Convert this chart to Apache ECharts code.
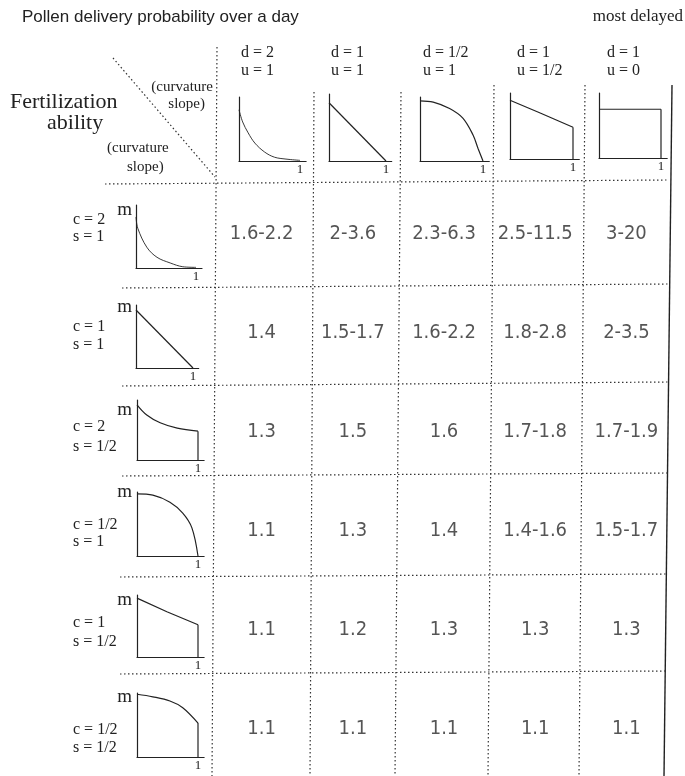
<!DOCTYPE html>
<html><head><meta charset="utf-8">
<script src="https://cdn.jsdelivr.net/npm/echarts@6/dist/echarts.min.js"></script>
<style>html,body{margin:0;padding:0;background:#fff}#c{width:685px;height:776px}</style>
</head><body><div id="c"></div>
<script>
// ---------- data ----------
const colLabelsD = ['d = 2', 'd = 1', 'd = 1/2', 'd = 1', 'd = 1'];
const colLabelsU = ['u = 1', 'u = 1', 'u = 1', 'u = 1/2', 'u = 0'];
const rowLabelsC = ['c = 2', 'c = 1', 'c = 2', 'c = 1/2', 'c = 1', 'c = 1/2'];
const rowLabelsS = ['s = 1', 's = 1', 's = 1/2', 's = 1', 's = 1/2', 's = 1/2'];
const cellValues = [
  ['1.6-2.2', '2-3.6', '2.3-6.3', '2.5-11.5', '3-20'],
  ['1.4', '1.5-1.7', '1.6-2.2', '1.8-2.8', '2-3.5'],
  ['1.3', '1.5', '1.6', '1.7-1.8', '1.7-1.9'],
  ['1.1', '1.3', '1.4', '1.4-1.6', '1.5-1.7'],
  ['1.1', '1.2', '1.3', '1.3', '1.3'],
  ['1.1', '1.1', '1.1', '1.1', '1.1']
];
// pollen delivery curves (x: time of day 0..1, y: fraction of axis height)
const pollenCurve1 = [[0,0.80],[0.06,0.61],[0.15,0.44],[0.26,0.28],[0.42,0.14],[0.58,0.06],[0.77,0.03],[1,0.01]];
const pollenCurve2 = [[0,0.87],[1,0]];
const pollenCurve3 = [[0,0.94],[0.21,0.92],[0.47,0.82],[0.68,0.67],[0.84,0.41],[0.92,0.20],[1,0]];
const pollenCurve4 = [[0,0.89],[0.47,0.70],[1,0.48]];
const pollenCurve5 = [[0,0.75],[1,0.75]];
const pollenDrops = [false, false, false, true, true];
// fertilization ability curves
const fertCurve1 = [[0,0.81],[0.03,0.63],[0.18,0.33],[0.35,0.17],[0.57,0.08],[0.78,0.02],[1,0.01]];
const fertCurve2 = [[0,0.92],[1,0]];
const fertCurve3 = [[0,0.92],[0.16,0.75],[0.38,0.62],[0.66,0.53],[1,0.48]];
const fertCurve4 = [[0,0.97],[0.26,0.95],[0.54,0.84],[0.75,0.67],[0.9,0.44],[1,0]];
const fertCurve5 = [[0,0.95],[0.49,0.73],[1,0.52]];
const fertCurve6 = [[0,0.98],[0.26,0.94],[0.54,0.875],[0.75,0.77],[1,0.53]];
const fertDrops = [false, false, true, false, true, true];

// ---------- layout ----------
const pollenCurves = [pollenCurve1, pollenCurve2, pollenCurve3, pollenCurve4, pollenCurve5];
const fertCurves = [fertCurve1, fertCurve2, fertCurve3, fertCurve4, fertCurve5, fertCurve6];
// [left, x of "1", top, bottom]
const pollenRects = [[239,300,97,161],[329,386,94,161],[420,483,97,161],[510,573,93,159],[599,661,93,158]];
const fertRects = [[136,196,205,268],[136,193,305,368],[137,198,400,460],[137,198,492,556],[137,198,595,657],[137,198,693,757]];
const colTextX = [241, 331, 423, 517, 607];
const rowTextY = [[220,237],[327,345],[427,447],[525,542],[623,642],[730,748]];
const mTextY = [210, 307, 410, 492, 600, 697];

const SERIF = '"Liberation Serif","Times New Roman",serif';
const SANS = '"Liberation Sans",Arial,sans-serif';
const NARROW = '"Liberation Sans Narrow","DejaVu Sans Condensed",sans-serif';
const INK = '#222';

const grids = [], xAxes = [], yAxes = [], series = [];
function addMini(rect, pts, drop, thin) {
  const i = grids.length;
  const [l, x1, t, b] = rect;
  grids.push({left: l, top: t, width: (x1 - l) * 1.1, height: b - t});
  xAxes.push({type: 'value', gridIndex: i, min: 0, max: 1.1, interval: 1,
    axisLine: {show: true, onZero: false, lineStyle: {color: INK, width: 1.2}},
    axisTick: {show: false}, splitLine: {show: false},
    axisLabel: {show: true, formatter: v => (v === 1 ? '1' : ''), fontFamily: SERIF, fontSize: 13, color: INK, margin: 2}});
  yAxes.push({type: 'value', gridIndex: i, min: 0, max: 1,
    axisLine: {show: true, onZero: false, lineStyle: {color: INK, width: 1.2}},
    axisTick: {show: false}, splitLine: {show: false}, axisLabel: {show: false}});
  series.push({type: 'line', xAxisIndex: i, yAxisIndex: i, data: pts, showSymbol: false,
    smooth: pts.length > 3 ? 0.35 : false, silent: true,
    lineStyle: {color: INK, width: thin ? 0.9 : 1.2}});
  if (drop) {
    const last = pts[pts.length - 1];
    series.push({type: 'line', xAxisIndex: i, yAxisIndex: i, data: [[last[0], last[1]], [last[0], 0]],
      showSymbol: false, silent: true, lineStyle: {color: INK, width: 1.2}});
  }
}
pollenCurves.forEach((c, k) => addMini(pollenRects[k], c, pollenDrops[k], k === 0));
fertCurves.forEach((c, k) => addMini(fertRects[k], c, fertDrops[k], k === 0));

// main table of values
const m = grids.length;
grids.push({left: 216, top: 182, width: 456, height: 594});
xAxes.push({type: 'category', gridIndex: m, data: colLabelsD.map((d, k) => d + ', ' + colLabelsU[k]),
  axisLine: {show: false}, axisTick: {show: false}, axisLabel: {show: false}, splitLine: {show: false}});
yAxes.push({type: 'category', gridIndex: m, inverse: true, data: rowLabelsC.map((c, k) => c + ', ' + rowLabelsS[k]),
  axisLine: {show: false}, axisTick: {show: false}, axisLabel: {show: false}, splitLine: {show: false}});
const cells = [];
cellValues.forEach((row, r) => row.forEach((v, c) => cells.push([c, r, v])));
series.push({type: 'scatter', xAxisIndex: m, yAxisIndex: m, data: cells, symbolSize: 0.01,
  itemStyle: {color: 'transparent'}, silent: true,
  label: {show: true, position: 'inside', offset: [0, 2], formatter: p => p.value[2], fontFamily: NARROW, fontSize: 20, color: '#2a2a2a'}});

// ---------- decorations ----------
const g = [];
const dot = {stroke: '#333', lineWidth: 1.2, lineDash: [1.5, 2.5]};
function line(x1, y1, x2, y2, style) { g.push({type: 'line', silent: true, shape: {x1, y1, x2, y2}, style}); }
function text(t, x, y, font, align) {
  g.push({type: 'text', silent: true, x, y, style: {text: t, font, fill: INK, align: align || 'left', verticalAlign: 'middle'}});
}
// vertical rules [x top, x bottom, y top]
[[217,212,47],[314,310,92],[401,395,92],[494,488,85],[585,579,85]].forEach(v => line(v[0], v[2], v[1], 776, dot));
line(672, 85, 664, 776, {stroke: INK, lineWidth: 1.4});
// horizontal rules [x left, y left, y right]
[[105,184,180],[122,288,284],[122,386,382],[122,476,473],[120,577,574],[120,674,671]].forEach(h => line(h[0], h[1], 668, h[2], dot));
// diagonal
line(113, 58, 215, 177, dot);

text('Pollen delivery probability over a day', 22, 17, '17px ' + SANS);
text('most delayed', 683, 17, '17px ' + SERIF, 'right');
text('Fertilization', 10, 102, '22px ' + SERIF);
text('ability', 47, 123, '22px ' + SERIF);
text('(curvature', 213, 87, '15px ' + SERIF, 'right');
text('slope)', 205, 104, '15px ' + SERIF, 'right');
text('(curvature', 107, 148, '15px ' + SERIF);
text('slope)', 127, 167, '15px ' + SERIF);
colLabelsD.forEach((d, k) => { text(d, colTextX[k], 53, '16px ' + SERIF); text(colLabelsU[k], colTextX[k], 71, '16px ' + SERIF); });
rowLabelsC.forEach((c, k) => {
  text(c, 73, rowTextY[k][0], '16px ' + SERIF);
  text(rowLabelsS[k], 73, rowTextY[k][1], '16px ' + SERIF);
  text('m', 132, mTextY[k], '19px ' + SERIF, 'right');
});

const chart = echarts.init(document.getElementById('c'), null, {width: 685, height: 776});
chart.setOption({animation: false, backgroundColor: '#fff', grid: grids, xAxis: xAxes, yAxis: yAxes, series, graphic: g});
</script></body></html>
